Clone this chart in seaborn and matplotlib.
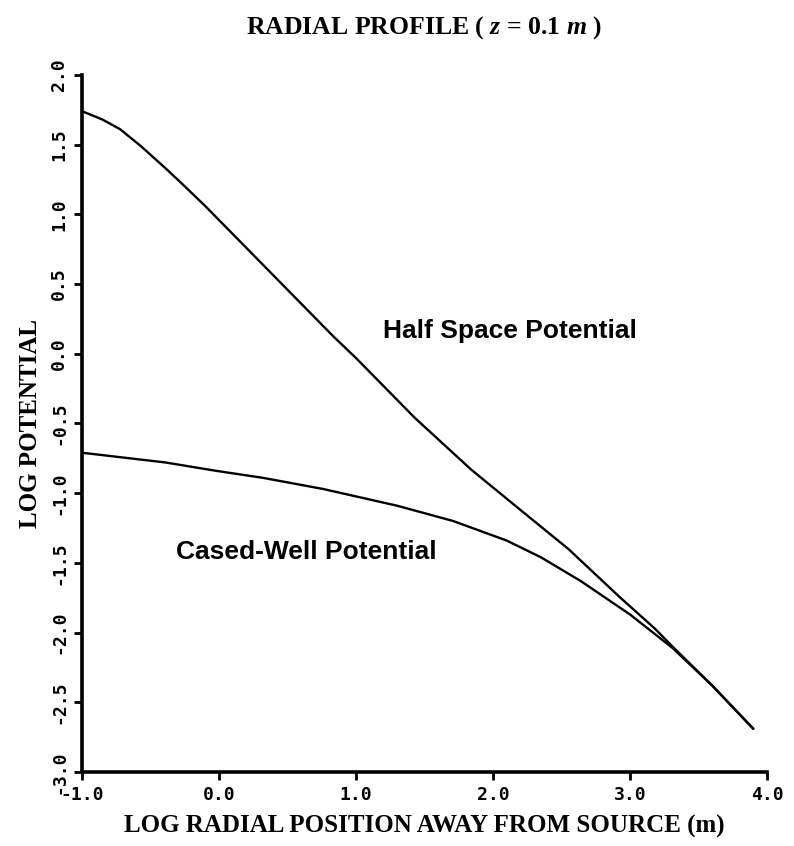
import numpy as np
import pandas as pd
import seaborn as sns
import matplotlib
matplotlib.use("Agg")
import matplotlib.pyplot as plt

# Data
half_x = [-1.0, -0.85, -0.72, -0.57, -0.40, -0.28, -0.10, 0.09, 0.45, 0.84, 1.00, 1.43, 1.84, 2.20, 2.55, 2.93, 3.18, 3.31, 3.60, 3.90]
half_y = [1.74, 1.68, 1.61, 1.49, 1.34, 1.23, 1.06, 0.87, 0.51, 0.12, -0.03, -0.46, -0.83, -1.12, -1.40, -1.75, -1.97, -2.10, -2.38, -2.69]
cased_x = [-1.0, -0.39, -0.02, 0.32, 0.76, 1.30, 1.71, 2.10, 2.35, 2.64, 3.00, 3.31, 3.60, 3.90]
cased_y = [-0.71, -0.78, -0.84, -0.89, -0.97, -1.09, -1.20, -1.34, -1.46, -1.63, -1.87, -2.11, -2.38, -2.69]
x_ticks = [-1.0, 0.0, 1.0, 2.0, 3.0, 4.0]
y_ticks = [-3.0, -2.5, -2.0, -1.5, -1.0, -0.5, 0.0, 0.5, 1.0, 1.5, 2.0]

df = pd.concat([
    pd.DataFrame({"x": half_x, "y": half_y, "series": "Half Space Potential"}),
    pd.DataFrame({"x": cased_x, "y": cased_y, "series": "Cased-Well Potential"}),
])

sns.set_theme(style="ticks")
plt.rcParams["mathtext.fontset"] = "custom"
plt.rcParams["mathtext.it"] = "Liberation Serif:italic:bold"
plt.rcParams["mathtext.rm"] = "Liberation Serif:bold"
plt.rcParams["text.color"] = "black"
plt.rcParams["axes.labelcolor"] = "black"
plt.rcParams["xtick.color"] = "black"
plt.rcParams["ytick.color"] = "black"

fig = plt.figure(figsize=(7.94, 8.46), dpi=100)
ax = fig.add_axes([0.103, 0.0875, 0.863, 0.824])

sns.lineplot(data=df, x="x", y="y", units="series", estimator=None, sort=False,
             color="black", linewidth=1.7, ax=ax, legend=False)

ax.set_xlim(-1.0, 4.0)
ax.set_ylim(-3.0, 2.0)
ax.set_xticks(x_ticks)
ax.set_yticks(y_ticks)
ax.set_xticklabels([f"{v:.1f}" for v in x_ticks], family="DejaVu Sans Mono",
                   fontweight="bold", fontsize=13)
ax.set_yticklabels([f"{v:.1f}" for v in y_ticks], family="DejaVu Sans Mono",
                   fontweight="bold", fontsize=13, rotation=90, va="center")
ax.tick_params(axis="both", direction="out", length=6, width=2, color="black", pad=4)

for s in ["top", "right"]:
    ax.spines[s].set_visible(False)
for s in ["left", "bottom"]:
    ax.spines[s].set_linewidth(2.6)
    ax.spines[s].set_color("black")

ax.set_xlabel("LOG RADIAL POSITION AWAY FROM SOURCE (m)", family="Liberation Serif",
              fontweight="bold", fontsize=18, labelpad=8)
ax.set_ylabel("LOG POTENTIAL", family="Liberation Serif", fontweight="bold",
              fontsize=18, labelpad=6)
ax.set_title(r"RADIAL PROFILE ( $z$ = 0.1 $m$ )", family="Liberation Serif",
             fontweight="bold", fontsize=18.5, pad=30)

ax.text(1.20, 0.16, "Half Space Potential", family="Liberation Sans",
        fontweight="bold", fontsize=19, va="center", ha="left")
ax.text(-0.31, -1.42, "Cased-Well Potential", family="Liberation Sans",
        fontweight="bold", fontsize=19, va="center", ha="left")

fig.savefig("out.png", dpi=100, facecolor="white")
